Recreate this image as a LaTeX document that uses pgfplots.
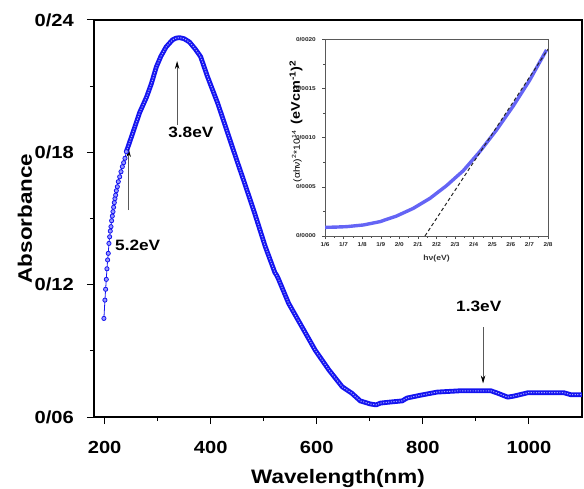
\documentclass[border=0pt]{standalone}
\usepackage{fontspec}
\setmainfont{Liberation Sans}[FakeStretch=1.15]
\usepackage{pgfplots}
\pgfplotsset{compat=1.18}
\usetikzlibrary{arrows.meta}
\definecolor{mainblue}{RGB}{20,20,240}
\definecolor{insetblue}{RGB}{100,100,245}
\begin{document}
\begin{tikzpicture}
\useasboundingbox (-94pt,-71pt) rectangle (490pt,417pt);
\begin{axis}[
  at={(0pt,0pt)}, anchor=south west,
  scale only axis, width=488pt, height=397pt,
  xmin=180, xmax=1100, ymin=0.06, ymax=0.24,
  xtick={200,400,600,800,1000}, xticklabels={200,400,600,800,1000},
  ytick={0.06,0.12,0.18,0.24}, yticklabels={0/06,0/12,0/18,0/24},
  minor x tick num=1, minor y tick num=1,
  scaled y ticks=false,
  tick align=outside, xtick pos=bottom, ytick pos=left,
  major tick length=7pt, minor tick length=4pt,
  axis line style={line width=1.1pt},
  tick style={line width=1pt, black},
  xticklabel style={anchor=center, inner sep=0pt, yshift=-23pt, font=\bfseries\fontsize{17.5}{17.5}\selectfont},
  yticklabel style={anchor=east, inner sep=0pt, xshift=-13pt, font=\bfseries\fontsize{17.5}{17.5}\selectfont},
  every axis x label/.style={at={(axis description cs:0.5,-0.156)}, anchor=center, font=\bfseries\fontsize{19.5}{19.5}\selectfont},
  every axis y label/.style={at={(axis description cs:-0.1414,0.5)}, anchor=center, rotate=90, font=\bfseries\fontsize{19.5}{19.5}\selectfont},
  xlabel={Wavelength(nm)}, ylabel={Absorbance},
]
% sparse rising part
\addplot[mainblue, line width=0.8pt, mark=*, mark size=2.1pt, mark options={fill=blue!40, draw=mainblue, line width=0.8pt}] table {
x y
198.7 0.1047
200.6 0.1130
201.9 0.1179
203.2 0.1224
204.4 0.1272
205.7 0.1312
206.9 0.1342
208.2 0.1387
209.5 0.1417
210.7 0.1443
212.0 0.1463
213.2 0.1490
214.5 0.1511
215.8 0.1531
217.0 0.1551
218.3 0.1572
219.5 0.1590
220.8 0.1606
222.1 0.1626
224.0 0.1644
225.8 0.1667
228.4 0.1689
230.9 0.1712
233.4 0.1735
235.9 0.1753
238.4 0.1773
241.0 0.1803
};
% dense band
\pgfplotstableread{
x y
241 0.1803
253 0.1887
266 0.1980
279 0.2050
288 0.2110
297.5 0.2187
306 0.2235
316 0.2278
328 0.2310
335 0.2318
341.5 0.2320
350 0.2315
360 0.2300
371 0.2268
381 0.2234
394 0.2143
413 0.2024
432 0.1888
451 0.1751
462 0.1674
483 0.1523
503 0.1372
521 0.1255
524 0.1244
527 0.1230
547 0.1115
572 0.1009
597 0.0903
623 0.0813
648 0.0737
666 0.0708
682 0.0673
701 0.0659
712 0.0655
720 0.0663
739 0.0668
761 0.0673
770 0.0686
796 0.0699
827 0.0713
871 0.0719
928 0.0719
941 0.0708
960 0.0690
972 0.0695
998 0.0710
1066 0.0710
1079 0.0701
1100 0.0701
}\densetable
\addplot[mainblue, line width=4.8pt, line join=round, no marks] table {\densetable};
\addplot[blue!35!white, line width=1pt, dash pattern=on 1.2pt off 1.4pt, no marks] table {\densetable};
% annotations
\draw[gray!70!black, line width=0.8pt, -{Stealth[black, length=8pt, width=4.5pt]}] (axis cs:245.4,0.1538) -- (axis cs:245.4,0.1815);
\draw[gray!70!black, line width=0.8pt, -{Stealth[black, length=8pt, width=4.5pt]}] (axis cs:336.7,0.1924) -- (axis cs:336.7,0.2214);
\draw[gray!70!black, line width=0.8pt, -{Stealth[black, length=8pt, width=4.5pt]}] (axis cs:913.5,0.1008) -- (axis cs:913.5,0.0752);
\node[font=\bfseries\fontsize{15}{15}\selectfont] at (axis cs:262.4,0.138) {5.2eV};
\node[font=\bfseries\fontsize{15}{15}\selectfont] at (axis cs:362.6,0.1892) {3.8eV};
\node[font=\bfseries\fontsize{15}{15}\selectfont] at (axis cs:905.4,0.1103) {1.3eV};
\end{axis}
% inset
\begin{axis}[
  at={(231pt,181pt)}, anchor=south west,
  scale only axis, width=223pt, height=196.7pt,
  xmin=1.6, xmax=2.8, ymin=0, ymax=0.002,
  xtick={1.6,1.7,1.8,1.9,2.0,2.1,2.2,2.3,2.4,2.5,2.6,2.7,2.8},
  xticklabels={1/6,1/7,1/8,1/9,2/0,2/1,2/2,2/3,2/4,2/5,2/6,2/7,2/8},
  ytick={0,0.0005,0.001,0.0015,0.002},
  yticklabels={0/0000,0/0005,0/0010,0/0015,0/0020},
  scaled y ticks=false, scaled x ticks=false,
  minor x tick num=1, minor y tick num=1,
  tick align=outside, xtick pos=bottom, ytick pos=left,
  major tick length=3pt, minor tick length=1.8pt,
  axis line style={black!65, line width=0.6pt},
  tick style={line width=0.5pt, black!70},
  xticklabel style={anchor=center, inner sep=0pt, yshift=-5.7pt, text=black!85, font=\bfseries\fontsize{5.6}{5.6}\selectfont},
  yticklabel style={anchor=east, inner sep=0pt, xshift=-6pt, text=black!85, font=\bfseries\fontsize{5.6}{5.6}\selectfont},
  every axis x label/.style={at={(axis description cs:0.5,-0.117)}, anchor=center, font=\bfseries\fontsize{7.5}{7.5}\selectfont, text=black!80},
  every axis y label/.style={at={(axis description cs:-0.13,0.582)}, anchor=center, rotate=90},
  xlabel={hν(eV)},
  ylabel={{\fontsize{9}{9}\selectfont (αhν)\textsuperscript{2}*10\textsuperscript{14}}\ \ {\bfseries\fontsize{12.5}{12.5}\selectfont (eVcm\textsuperscript{-1})\textsuperscript{2}}},
]
\addplot[insetblue, line width=3.4pt, line join=round, no marks] table {
x y
1.600 0.000088
1.650 0.000090
1.716 0.000095
1.806 0.000112
1.896 0.000146
1.985 0.000203
2.075 0.000281
2.165 0.000383
2.254 0.000512
2.344 0.000664
2.433 0.000858
2.523 0.001078
2.613 0.001322
2.702 0.001586
2.792 0.001892
};
\addplot[black!85, line width=1pt, dash pattern=on 3.5pt off 2.5pt, no marks] table {
x y
2.138 0
2.800 0.0019
};
\end{axis}
\end{tikzpicture}
\end{document}
